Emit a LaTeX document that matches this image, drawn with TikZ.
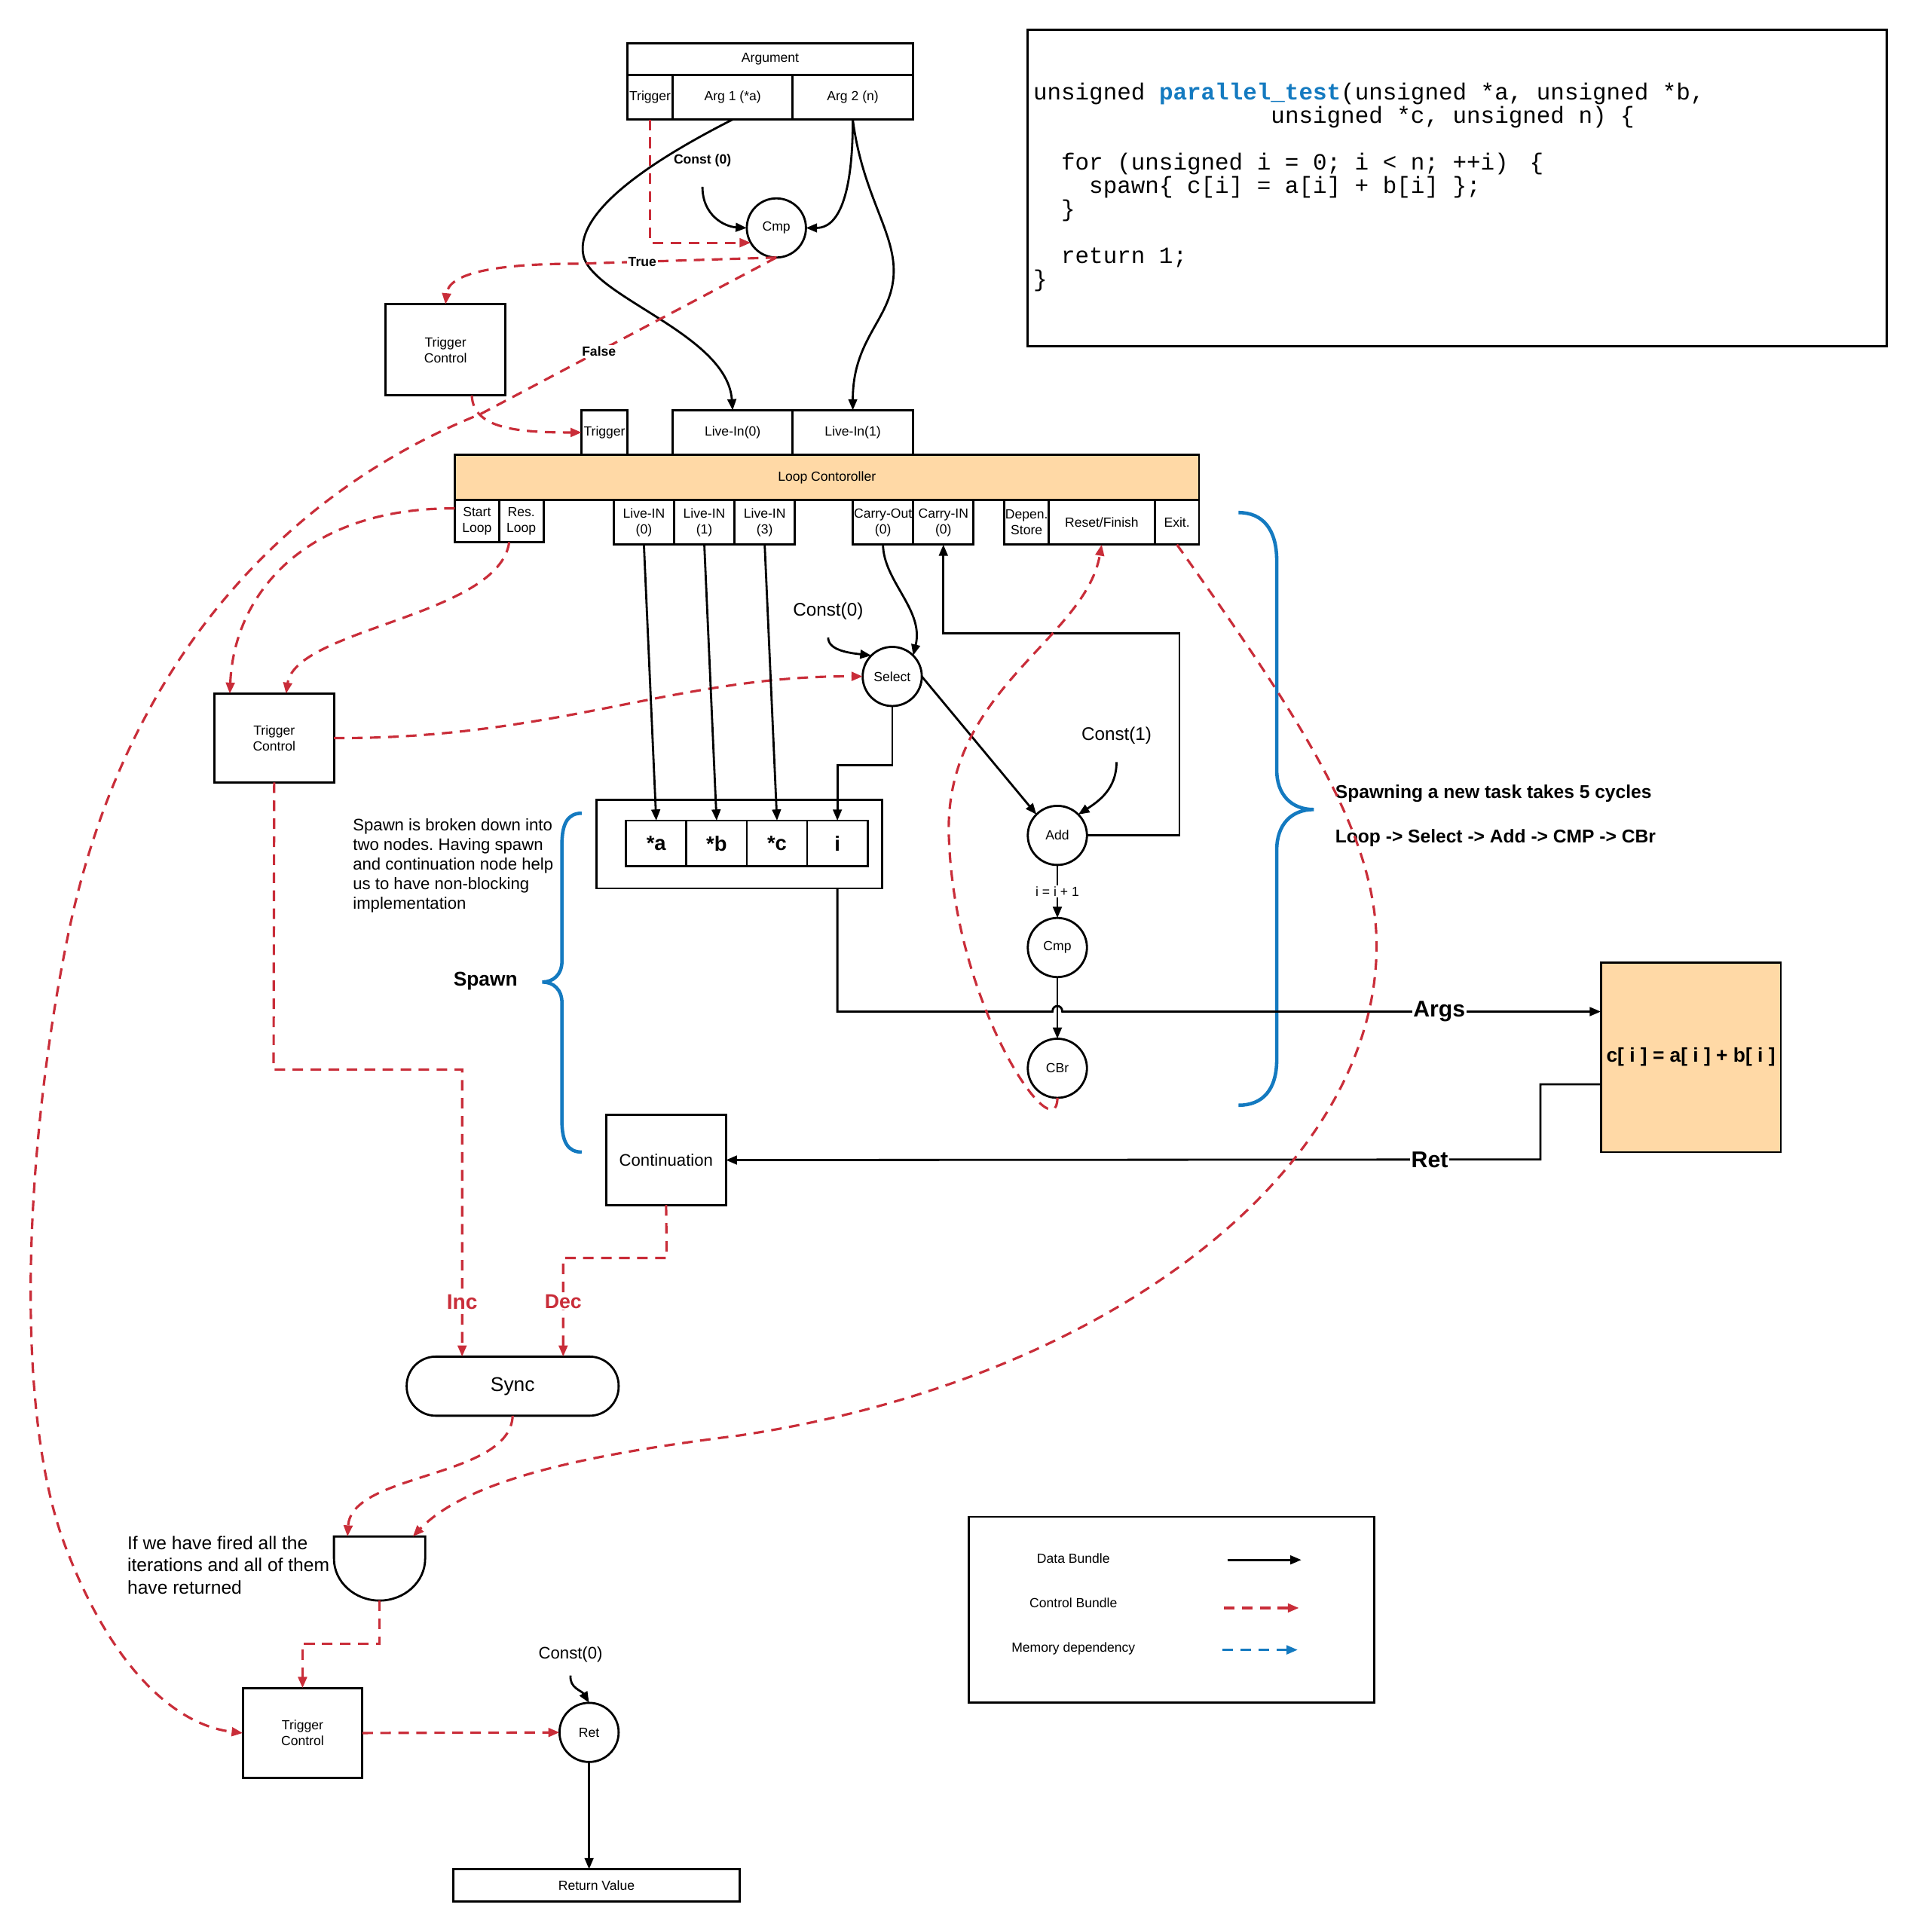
\documentclass[tikz,border=0pt]{standalone}
\usepackage{fontspec}
\setmainfont{Liberation Sans}
\setmonofont{Liberation Mono}
\usetikzlibrary{positioning, arrows.meta}
\definecolor{ctrlred}{RGB}{201,45,57}
\definecolor{membl}{RGB}{20,122,192}
\definecolor{loopor}{RGB}{255,217,166}
\newcommand{\pxu}{0.01635cm}
\frenchspacing

\begin{document}
\begin{tikzpicture}[
    x=\pxu, y=-\pxu,
    node distance=0pt,
    box/.style={draw, rectangle, line width=0.8pt, inner sep=0.3pt, outer sep=0pt, align=center, font=\fontsize{5}{6}\selectfont},
    sz/.style 2 args={minimum width=#1*\pxu, minimum height=#2*\pxu},
    op/.style={draw, circle, line width=0.8pt, inner sep=0pt, outer sep=0pt, minimum size=48*\pxu, font=\fontsize{5}{6}\selectfont},
    data/.style={-{Triangle[length=4.2pt, width=3.3pt]}, line width=0.8pt},
    ctrl/.style={-{Triangle[length=4.2pt, width=3.3pt]}, draw=ctrlred, fill=none, line width=0.9pt, dash pattern=on 4pt off 2.8pt},
    mem/.style={-{Triangle[length=4.2pt, width=3.3pt]}, draw=membl, line width=0.9pt, dash pattern=on 4pt off 2.8pt},
    brace/.style={draw=membl, line width=1.3pt},
    lbl/.style={fill=white, inner sep=0.5pt},
    note/.style={inner sep=1pt}
]
\useasboundingbox (0,0) rectangle (1556,1568);

\node[box, sz={232}{26}] (arghead) at (625,48) {Argument};
\node[box, sz={37}{36}, anchor=north west] (argtrig) at (arghead.south west) {Trigger};
\node[box, sz={97}{36}, right=of argtrig] (arg1) {Arg 1 (*a)};
\node[box, sz={98}{36}, right=of arg1] (arg2) {Arg 2 (n)};

\node[box, sz={697}{257}] (codebox) at (1182.5,152.5) {};
\node[anchor=north west, inner sep=0pt, align=left, font=\ttfamily\fontsize{8.8}{8.8}\selectfont] (code) at (838,67)
    {unsigned \textcolor{membl}{\textbf{parallel\_test}}(unsigned *a, unsigned *b,\\
     \ \ \ \ \ \ \ \ \ \ \ \ \ \ \ \ \ unsigned *c, unsigned n) \{\\[8.8pt]
     \ \ for (unsigned i = 0; i < n; ++i)\hspace{0.9em}\{\\
     \ \ \ \ spawn\{ c[i] = a[i] + b[i] \};\\
     \ \ \}\\[8.8pt]
     \ \ return 1;\\
     \}};

\node[op] (cmpa) at (630,185) {Cmp};
\node[note, font=\bfseries\fontsize{5}{6}\selectfont] (czeroa) at (570,130) {Const (0)};
\node[box, sz={97}{74}] (tca) at (361.5,284) {Trigger\\Control};

\node[box, sz={37}{36}] (looptrig) at (490.5,351) {Trigger};
\node[box, sz={97}{36}] (livea) at (594.5,351) {Live-In(0)};
\node[box, sz={98}{36}, right=of livea] (liveb) {Live-In(1)};

\node[box, fill=loopor, sz={604}{37}] (loop) at (671,387.5) {Loop Contoroller};
\node[box, sz={36}{34}, anchor=north west] (start) at (loop.south west) {Start\\Loop};
\node[box, sz={36}{34}, right=of start] (resl) {Res.\\Loop};
\node[box, sz={49}{36}] (lin0) at (522.5,424) {Live-IN\\(0)};
\node[box, sz={49}{36}, right=of lin0] (lin1) {Live-IN\\(1)};
\node[box, sz={49}{36}, right=of lin1] (lin3) {Live-IN\\(3)};
\node[box, sz={49}{36}] (cout) at (716.5,424) {Carry-Out\\(0)};
\node[box, sz={49}{36}, right=of cout] (cin) {Carry-IN\\(0)};
\node[box, sz={36}{36}] (dep) at (833,424) {Depen.\\Store};
\node[box, sz={86}{36}, right=of dep] (reset) {Reset/Finish};
\node[box, sz={36}{36}, right=of reset] (exit) {Exit.};

\node[box, sz={97}{72}] (tcb) at (222.5,599) {Trigger\\Control};
\node[op] (sel) at (724,549) {Select};
\node[note, font=\fontsize{6.9}{8}\selectfont] (czerob) at (672,496) {Const(0)};
\node[op] (add) at (858,678) {Add};
\node[note, font=\fontsize{6.9}{8}\selectfont] (cone) at (906,597) {Const(1)};
\node[op] (cmpb) at (858,769) {Cmp};
\node[op] (cbr) at (858,867) {CBr};

\node[box, sz={232}{72}] (spawn) at (600,685) {};
\node[box, sz={49}{37}, font=\bfseries\fontsize{7.8}{9}\selectfont] (cella) at (532.5,684.5) {*a};
\node[box, sz={49}{37}, font=\bfseries\fontsize{7.8}{9}\selectfont, right=of cella] (cellb) {*b};
\node[box, sz={49}{37}, font=\bfseries\fontsize{7.8}{9}\selectfont, right=of cellb] (cellc) {*c};
\node[box, sz={49}{37}, font=\bfseries\fontsize{7.8}{9}\selectfont, right=of cellc] (celli) {i};

\node[box, fill=loopor, sz={146}{154}, font=\bfseries\fontsize{7.5}{9}\selectfont] (task) at (1372,858) {c[ i ] = a[ i ] + b[ i ]};
\coordinate (argsin) at (1299,821);
\coordinate (retout) at (1299,880);

\node[box, sz={97}{73}, font=\fontsize{6.3}{7.5}\selectfont] (cont) at (540.5,941.5) {Continuation};
\node[box, sz={172}{48}, rounded corners=11pt, font=\fontsize{7.5}{9}\selectfont] (sync) at (416,1125) {Sync};
\coordinate (syncinc) at (375,1101);
\coordinate (syncdec) at (457,1101);

\draw[line width=0.8pt] (271,1247) -- (345,1247) -- (345,1265) .. controls (345,1284) and (328,1299) .. (308,1299) .. controls (288,1299) and (271,1284) .. (271,1265) -- cycle;
\coordinate (gatetl) at (282,1247);
\coordinate (gatetr) at (335,1247);
\coordinate (gateb) at (308,1299);

\node[box, sz={97}{73}] (tcc) at (245.5,1406.5) {Trigger\\Control};
\node[op] (ret) at (478,1406) {Ret};
\node[note, font=\fontsize{6.3}{7.5}\selectfont] (czeroc) at (463,1343) {Const(0)};
\node[box, sz={232}{26}] (retval) at (484,1530) {Return Value};

\node[box, sz={329}{151}] (legend) at (950.5,1306.5) {};
\node[note, font=\fontsize{5}{6}\selectfont] (ldata) at (871,1265) {Data Bundle};
\node[note, font=\fontsize{5}{6}\selectfont] (lctrl) at (871,1301) {Control Bundle};
\node[note, font=\fontsize{5}{6}\selectfont] (lmem) at (871,1338) {Memory dependency};
\coordinate (dataa) at (996,1266);
\coordinate (datab) at (1056,1266);
\coordinate (ctrla) at (993,1305);
\coordinate (ctrlb) at (1054,1305);
\coordinate (mema) at (992,1339);
\coordinate (memb) at (1053,1339);

\node[anchor=north west, align=left, inner sep=0pt, font=\fontsize{6.3}{7.4}\selectfont] (spawnnote) at (286,664)
    {Spawn is broken down into\\two nodes. Having spawn\\and continuation node help\\us to have non-blocking\\implementation};
\node[anchor=north west, align=left, inner sep=0pt, font=\fontsize{7}{8.4}\selectfont] (firednote) at (103,1246)
    {If we have fired all the\\iterations and all of them\\have returned};
\node[note, font=\bfseries\fontsize{7.5}{9}\selectfont] (spawnlbl) at (394,796) {Spawn};
\node[anchor=west, note, font=\bfseries\fontsize{7}{8}\selectfont] (cyclenote) at (1081,644) {Spawning a new task takes 5 cycles};
\node[anchor=west, note, font=\bfseries\fontsize{7}{8}\selectfont] (chainnote) at (1081,680) {Loop -> Select -> Add -> CMP -> CBr};

\draw[brace] (472,660) .. controls (461,660) and (456,668) .. (456,685) -- (456,780) .. controls (456,791) and (449,797) .. (440,797) .. controls (449,797) and (456,803) .. (456,814) -- (456,910) .. controls (456,927) and (461,935) .. (472,935);
\draw[brace] (1005,416) .. controls (1025,416) and (1036,430) .. (1036,455) -- (1036,625) .. controls (1036,645) and (1048,657) .. (1066,657) .. controls (1048,657) and (1036,669) .. (1036,690) -- (1036,860) .. controls (1036,884) and (1025,897) .. (1005,897);

\draw[data] (arg1.south) .. controls (500,145) and (470,180) .. (473,205) .. controls (476,240) and (590,270) .. (livea.north);
\draw[data] (arg2.south) .. controls (692,160) and (680,185) .. (cmpa.east);
\draw[data] (arg2.south) .. controls (700,160) and (728,190) .. (725,225) .. controls (722,260) and (692,275) .. (liveb.north);
\draw[data] (czeroa.south) ++(0,14) .. controls (570,175) and (588,184) .. (cmpa.west);
\draw[ctrl] (argtrig.south) |- (cmpa.210);
\draw[ctrl] (cmpa.south) -- node[lbl, pos=0.68, text=black, font=\bfseries\fontsize{5}{6}\selectfont] (truelbl) {True} (470,214) .. controls (400,214) and (364,222) .. (tca.north);
\draw[ctrl] (cmpa.south) -- node[lbl, pos=0.6, text=black, font=\bfseries\fontsize{5}{6}\selectfont] (falselbl) {False} (390,336) .. controls (230,400) and (100,540) .. (55,760) .. controls (20,930) and (10,1150) .. (55,1260) .. controls (90,1350) and (140,1400) .. (tcc.west);
\draw[ctrl] (tca.300) .. controls (384,348) and (420,351) .. (looptrig.west);

\draw[ctrl] (start.150) .. controls (250,412) and (190,480) .. (tcb.135);
\draw[ctrl] (resl.240) .. controls (405,500) and (240,510) .. (tcb.75);
\draw[ctrl] (tcb.east) .. controls (450,600) and (550,548) .. (sel.west);

\draw[data] (czerob.south) ++(0,12) .. controls (672,528) and (690,530) .. (sel.north west);
\draw[data] (cout.south) .. controls (717,472) and (750,495) .. (sel.north east);
\draw[data] (sel.east) -- (add.north west);
\draw[data] (sel.south) -- (724,621) -| (celli.north);
\draw[data] (cone.south) ++(0,12) .. controls (906,640) and (892,650) .. (add.north east);
\draw[data] (add.east) -- (957,678) -- (957,514) -| (cin.south);
\draw[data] (add.south) -- node[lbl, font=\fontsize{5}{6}\selectfont] (incrlbl) {i = i + 1} (cmpb.north);
\draw[data] (cmpb.south) -- (cbr.north);

\draw[data] (lin0.south) -- (cella.north);
\draw[data] (lin1.south) -- (cellb.north);
\draw[data] (lin3.south) -- (cellc.north);

\draw[data] (celli.center |- spawn.south) |- (854,821) .. controls (854,815) and (862,815) .. (862,821) -- node[lbl, pos=0.70, font=\bfseries\fontsize{8.6}{10}\selectfont] (argslbl) {Args} (argsin);
\draw[data] (retout) -- (1250,880) -- (1250,941) -- node[lbl, pos=0.136, font=\bfseries\fontsize{8.6}{10}\selectfont] (retlbl) {Ret} (cont.east);

\draw[ctrl] (cbr.south) .. controls (858,935) and (775,820) .. (770,680) .. controls (765,560) and (880,520) .. (reset.south);
\draw[ctrl] (exit.south) .. controls (1060,590) and (1118,680) .. (1117,770) .. controls (1115,950) and (900,1120) .. (600,1165) .. controls (480,1180) and (380,1200) .. (gatetr);

\draw[ctrl] (tcb.south) -- (222,868) -- (375,868) -- node[lbl, pos=0.81, text=ctrlred, font=\bfseries\fontsize{8}{9}\selectfont] (inclbl) {Inc} (syncinc);
\draw[ctrl] (cont.south) -- (541,1021) -- (457,1021) -- node[lbl, pos=0.44, text=ctrlred, font=\bfseries\fontsize{7.6}{9}\selectfont] (declbl) {Dec} (syncdec);
\draw[ctrl] (sync.south) .. controls (414,1200) and (285,1195) .. (gatetl);
\draw[ctrl] (gateb) -- (308,1334) -| (tcc.north);
\draw[ctrl] (tcc.east) -- (ret.west);
\draw[data] (czeroc.south) ++(0,8) .. controls (462,1370) and (472,1372) .. (ret.north);
\draw[data] (ret.south) -- (ret.south |- retval.north);

\draw[data] (dataa) -- (datab);
\draw[ctrl] (ctrla) -- (ctrlb);
\draw[mem] (mema) -- (memb);

\end{tikzpicture}
\end{document}
